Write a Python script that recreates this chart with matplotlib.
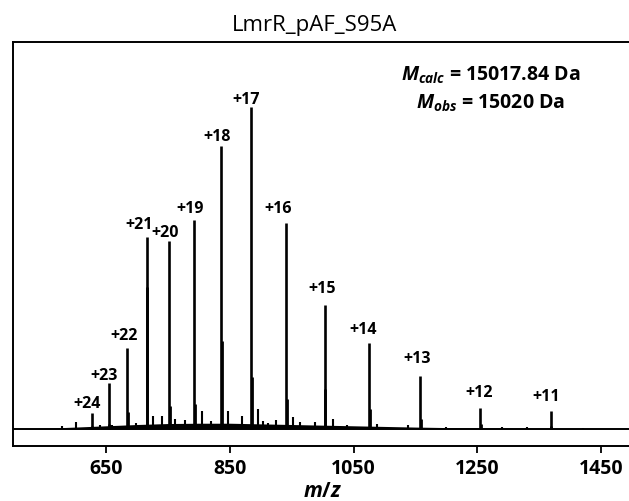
import matplotlib
matplotlib.use("Agg")
import matplotlib.pyplot as plt

# ---------------- data ----------------
charge_labels = ["+24", "+23", "+22", "+21", "+20", "+19", "+18",
                 "+17", "+16", "+15", "+14", "+13", "+12", "+11"]
peak_mz = [626.7, 654.2, 684.2, 716.6, 752.1, 792.0, 835.7,
           884.5, 941.2, 1003.3, 1074.9, 1157.8, 1254.3, 1368.5]
peak_int = [5.0, 14.3, 25.2, 59.6, 58.4, 64.9, 87.9,
            100.0, 64.0, 38.5, 26.7, 16.5, 6.5, 5.6]
# adduct shoulder next to each main peak
adduct_mz = [627.8, 655.3, 685.3, 715.6, 753.2, 793.1, 836.8,
             885.6, 942.3, 1004.4, 1076.0, 1158.9, 1255.4, 1369.6]
adduct_int = [1.0, 1.5, 5.3, 44.0, 7.2, 7.8, 27.3,
              16.1, 9.3, 12.4, 6.2, 3.1, 1.6, 1.0]
# minor peaks in the baseline
minor_mz = [578, 601, 640, 659, 666, 699, 726, 740, 761, 778, 805,
            820, 847, 870, 895, 904, 912, 924, 952, 963, 987, 1016,
            1040, 1087, 1138, 1200, 1290, 1330, 1420]
minor_int = [0.9, 2.2, 1.2, 1.3, 0.9, 1.9, 4.0, 4.0, 3.1, 2.8, 5.6,
             2.5, 5.6, 4.0, 6.2, 2.5, 1.8, 2.8, 3.7, 2.2, 2.2, 3.1,
             1.2, 1.6, 1.2, 0.6, 0.5, 0.5, 0.4]
# low background level of the spectrum
bg_mz = [500, 560, 600, 650, 700, 750, 800, 850, 900, 950, 1000,
         1050, 1100, 1150, 1200, 1300, 1400, 1500]
bg_int = [0.0, 0.3, 0.6, 1.0, 1.4, 1.7, 1.8, 1.8, 1.6, 1.4, 1.2,
          1.0, 0.8, 0.6, 0.45, 0.3, 0.15, 0.0]

x_ticks = [650, 850, 1050, 1250, 1450]
title = "LmrR_pAF_S95A"
m_calc = "15017.84"
m_obs = "15020"

# label offsets (pixels) relative to the peak top
label_dx = [-5, -5, -3, -8, -4, -4, -4, -5, -8, -3, -6, -3, -1, -4]
label_dy = [10, 8, 13, 13, 9, 12, 10.5, 8.5, 15, 17, 14, 18, 16, 15]

# ---------------- figure ----------------
plt.rcParams['font.family'] = ['Open Sans', 'DejaVu Sans']
plt.rcParams['mathtext.fontset'] = 'custom'
plt.rcParams['mathtext.it'] = 'Open Sans:italic:bold'
plt.rcParams['mathtext.rm'] = 'Open Sans:bold'
plt.rcParams['mathtext.bf'] = 'Open Sans:bold'

W, H = 629, 502
fig = plt.figure(figsize=(W / 100, H / 100), dpi=100)
left_px, right_px = 13.3, 13.3 + 618.75
top_px, bottom_px = 43.3, 447.0
ax = fig.add_axes([left_px / W, 1 - bottom_px / H,
                   (right_px - left_px) / W, (bottom_px - top_px) / H])

ax.set_xlim(500, 1500)
ax.set_ylim(-5.28, 120.2)

# background and baseline
ax.fill_between(bg_mz, 0, bg_int, color='black', lw=0)
ax.axhline(0, color='black', lw=1.4)
ax.vlines(minor_mz, 0, minor_int, color='black', lw=1.5)
ax.vlines(adduct_mz, 0, adduct_int, color='black', lw=2.0)
ax.vlines(peak_mz, 0, peak_int, color='black', lw=1.9)

for lab, mz, it, dx, dy in zip(charge_labels, peak_mz, peak_int, label_dx, label_dy):
    ax.annotate(lab, (mz, it), xytext=(dx, dy), textcoords='offset pixels',
                ha='center', va='center', fontsize=11.5, fontweight='bold')

ax.text(0.772, 0.921, r"$M_{calc}$" + f" = {m_calc} Da", transform=ax.transAxes,
        ha='center', va='center', fontsize=14, fontweight='bold')
ax.text(0.772, 0.851, r"$M_{obs}$" + f" = {m_obs} Da", transform=ax.transAxes,
        ha='center', va='center', fontsize=14, fontweight='bold')

ax.set_xticks(x_ticks)
ax.set_xticklabels([str(t) for t in x_ticks], fontsize=14, fontweight='bold')
ax.set_yticks([])
ax.tick_params(axis='x', length=5, width=1.3, pad=4)
for s in ax.spines.values():
    s.set_linewidth(1.4)

ax.set_xlabel(r"$m/z$", fontsize=15, labelpad=1)
fig.text(0.5, 1 - 25 / H, title, ha='center', va='center', fontsize=16)

fig.savefig("out.png", dpi=100)
